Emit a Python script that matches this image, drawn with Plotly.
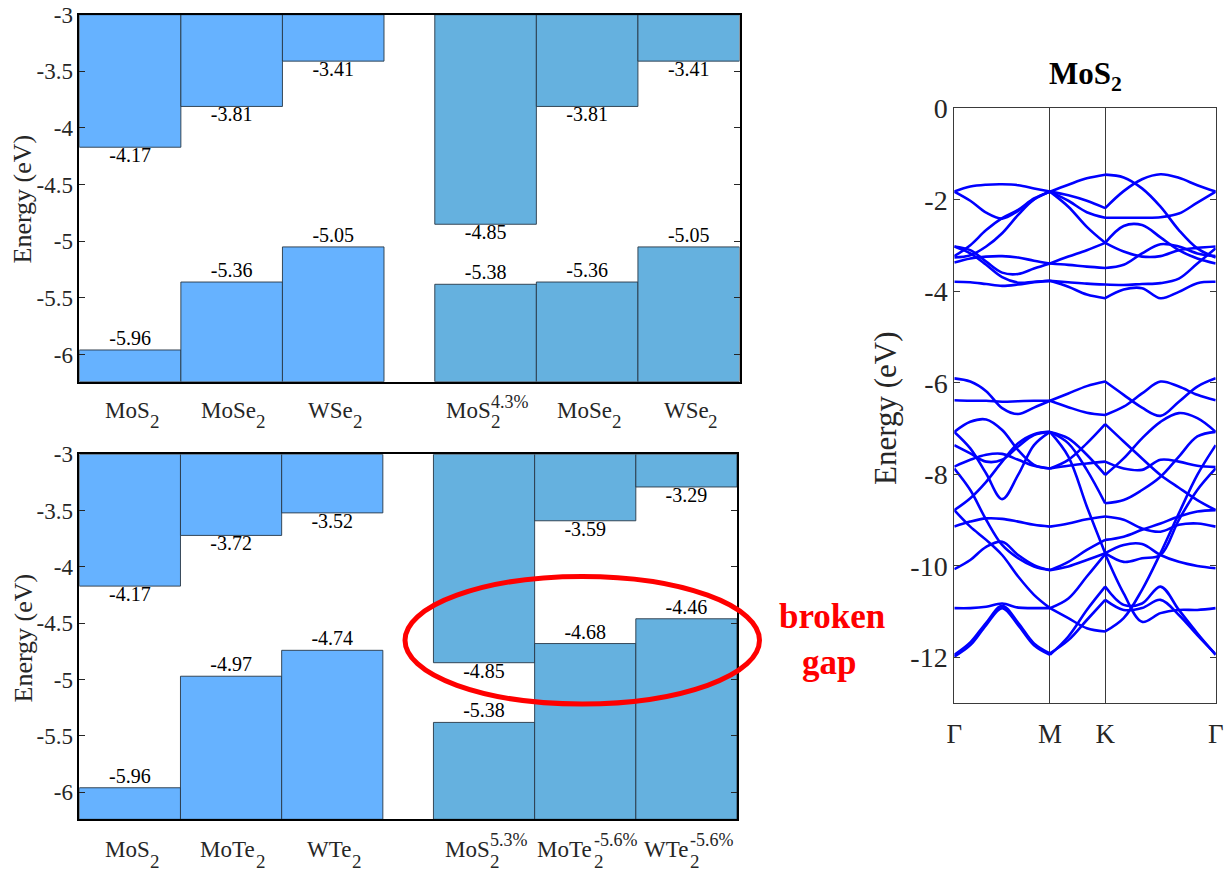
import plotly.graph_objects as go

# ---------------- data ----------------
TOP_NAMES = ["MoS", "MoSe", "WSe", "MoS", "MoSe", "WSe"]
TOP_SUBS = ["2", "2", "2", "2", "2", "2"]
TOP_SUPS = ["", "", "", "4.3%", "", ""]
TOP_CBM = [-4.17, -3.81, -3.41, -4.85, -3.81, -3.41]
TOP_VBM = [-5.96, -5.36, -5.05, -5.38, -5.36, -5.05]

BOT_NAMES = ["MoS", "MoTe", "WTe", "MoS", "MoTe", "WTe"]
BOT_SUBS = ["2", "2", "2", "2", "2", "2"]
BOT_SUPS = ["", "", "", "5.3%", "-5.6%", "-5.6%"]
BOT_CBM = [-4.17, -3.72, -3.52, -4.85, -3.59, -3.29]
BOT_VBM = [-5.96, -4.97, -4.74, -5.38, -4.68, -4.46]

BAR_POS = [0, 1, 2, 3.5, 4.5, 5.5]
E_TOP, E_BOTTOM = -3.0, -6.24
BAR_TICKS = [-3, -3.5, -4, -4.5, -5, -5.5, -6]
BAR_TICKTEXT = ["-3", "-3.5", "-4", "-4.5", "-5", "-5.5", "-6"]

# band structure: k-path  Γ -> M -> K -> Γ  (16 sample points)
K_POINTS = [0.0, 0.167, 0.333, 0.5, 0.667, 0.833, 1.0,
            1.192, 1.385, 1.577,
            1.770, 1.962, 2.155, 2.347, 2.540, 2.732]
K_TICKS = [0.0, 1.0, 1.577, 2.732]
K_LABELS = ["Γ", "M", "K", "Γ"]
BAND_YTICKS = [0, -2, -4, -6, -8, -10, -12]
BAND_YTEXT = ["0", "-2", "-4", "-6", "-8", "-10", "-12"]

CONDUCTION_BANDS = [
    [-1.82, -1.71, -1.67, -1.66, -1.68, -1.75, -1.82, -1.67, -1.53, -1.45, -1.51, -1.75, -2.15, -2.66, -3.06, -3.26],
    [-1.82, -2.02, -2.28, -2.41, -2.24, -1.99, -1.82, -1.90, -2.02, -2.18, -1.81, -1.55, -1.44, -1.52, -1.68, -1.82],
    [-3.23, -2.99, -2.66, -2.40, -2.22, -1.97, -1.82, -2.02, -2.27, -2.39, -2.39, -2.39, -2.38, -2.30, -2.06, -1.82],
    [-3.26, -3.21, -3.02, -2.73, -2.33, -1.99, -1.82, -2.15, -2.59, -2.94, -2.57, -2.55, -2.82, -3.10, -3.28, -3.39],
    [-3.02, -3.10, -3.35, -3.59, -3.62, -3.50, -3.39, -3.24, -3.10, -2.94, -3.13, -3.24, -3.23, -3.10, -3.05, -3.02],
    [-3.37, -3.28, -3.24, -3.23, -3.26, -3.33, -3.39, -3.42, -3.46, -3.49, -3.42, -3.17, -2.97, -3.02, -3.17, -3.23],
    [-3.79, -3.80, -3.84, -3.88, -3.85, -3.80, -3.77, -3.80, -3.83, -3.85, -3.86, -3.84, -3.82, -3.72, -3.39, -3.06],
    [-3.02, -3.17, -3.42, -3.69, -3.81, -3.79, -3.77, -3.90, -4.07, -4.15, -3.96, -3.93, -4.15, -4.01, -3.82, -3.79],
]

VALENCE_BANDS = [
    [-5.90, -5.97, -6.18, -6.55, -6.68, -6.54, -6.39, -6.23, -6.07, -5.97, -6.26, -6.54, -6.72, -6.41, -6.08, -5.90],
    [-6.38, -6.39, -6.39, -6.41, -6.40, -6.39, -6.39, -6.53, -6.65, -6.70, -6.52, -6.23, -5.97, -6.08, -6.26, -6.38],
    [-7.07, -6.85, -6.80, -7.03, -7.47, -7.79, -7.87, -7.68, -7.32, -6.90, -7.28, -7.65, -8.01, -8.29, -8.56, -8.78],
    [-7.07, -7.43, -7.98, -8.54, -8.01, -7.36, -7.07, -7.21, -7.57, -8.01, -7.65, -7.21, -6.85, -6.66, -6.77, -7.07],
    [-7.36, -7.54, -7.72, -7.68, -7.39, -7.14, -7.07, -7.61, -8.70, -9.72, -9.54, -9.52, -9.76, -9.91, -10.00, -10.05],
    [-7.83, -7.68, -7.57, -7.55, -7.68, -7.81, -7.87, -7.81, -7.76, -7.72, -7.87, -7.90, -7.68, -7.72, -7.81, -7.84],
    [-7.87, -8.34, -8.99, -9.54, -9.83, -10.01, -10.09, -10.01, -9.87, -9.72, -9.91, -9.83, -9.76, -8.99, -8.34, -7.87],
    [-8.78, -9.14, -9.43, -9.76, -10.23, -10.63, -10.92, -11.14, -11.36, -11.43, -11.14, -10.52, -9.72, -8.85, -8.01, -7.36],
    [-8.78, -8.52, -8.16, -7.72, -7.32, -7.12, -7.07, -7.32, -7.90, -8.63, -8.56, -8.34, -8.05, -7.61, -7.17, -7.07],
    [-9.14, -9.03, -8.96, -8.97, -9.03, -9.10, -9.14, -9.07, -8.98, -8.92, -8.99, -9.18, -9.25, -9.10, -9.07, -9.14],
    [-10.07, -9.87, -9.58, -9.47, -9.76, -9.98, -10.09, -9.91, -9.65, -9.43, -9.36, -9.21, -9.07, -8.92, -8.81, -8.78],
    [-10.92, -10.92, -10.89, -10.82, -10.91, -10.92, -10.92, -10.71, -10.23, -9.74, -10.60, -11.22, -11.03, -10.96, -10.96, -10.92],
    [-11.98, -11.73, -11.29, -10.92, -11.29, -11.73, -11.94, -11.54, -10.96, -10.45, -10.85, -10.82, -10.45, -10.96, -11.47, -11.94],
    [-11.94, -11.67, -11.24, -10.87, -11.24, -11.69, -11.91, -11.62, -11.18, -10.74, -10.96, -10.92, -10.74, -11.07, -11.51, -11.93],
]

# ---------------- style ----------------
SERIF = "Liberation Serif"
TICK_COLOR = "#262626"
LEFT_COLOR = "#66B2FF"
RIGHT_COLOR = "#65B1DF"
EDGE = "rgba(40,55,70,0.9)"
W, H = 1230, 873
FS_MAIN, FS_SUB, FS_SUP = 23, 19, 18
# approximate Times/Liberation Serif advance widths (em)
CHAR_W = {"M": 0.889, "o": 0.5, "S": 0.556, "e": 0.444, "T": 0.611, "W": 0.944,
          "-": 0.333, ".": 0.25, "%": 0.833}


def text_w(s, size):
    return sum(CHAR_W.get(c, 0.5) for c in s) * size


def px_x(p):
    return p / W


def px_y(p):
    return 1 - p / H


fig = go.Figure()
bar_colors = [LEFT_COLOR] * 3 + [RIGHT_COLOR] * 3


def add_bar_panel(cbm, vbm, xa, ya):
    fig.add_trace(go.Bar(x=BAR_POS, y=[c - E_TOP for c in cbm], base=E_TOP, width=1,
                         marker=dict(color=bar_colors, line=dict(color=EDGE, width=1)),
                         xaxis=xa, yaxis=ya, showlegend=False, hoverinfo="skip"))
    fig.add_trace(go.Bar(x=BAR_POS, y=[v - E_BOTTOM for v in vbm], base=E_BOTTOM, width=1,
                         marker=dict(color=bar_colors, line=dict(color=EDGE, width=1)),
                         xaxis=xa, yaxis=ya, showlegend=False, hoverinfo="skip"))
    fig.add_trace(go.Scatter(x=BAR_POS, y=cbm, mode="text", text=[f"{c:.2f}" for c in cbm],
                             textposition="bottom center",
                             textfont=dict(family=SERIF, size=20, color="black"),
                             xaxis=xa, yaxis=ya, showlegend=False, hoverinfo="skip"))
    fig.add_trace(go.Scatter(x=BAR_POS, y=vbm, mode="text", text=[f"{v:.2f}" for v in vbm],
                             textposition="top center",
                             textfont=dict(family=SERIF, size=20, color="black"),
                             xaxis=xa, yaxis=ya, showlegend=False, hoverinfo="skip"))


add_bar_panel(TOP_CBM, TOP_VBM, "x", "y")
add_bar_panel(BOT_CBM, BOT_VBM, "x2", "y2")

# band structure lines, one path per band, split at M and K
SEGMENTS = [(0, 7), (6, 10), (9, 16)]
for band in CONDUCTION_BANDS + VALENCE_BANDS:
    xs, ys = [], []
    for a, b in SEGMENTS:
        xs += K_POINTS[a:b] + [None]
        ys += band[a:b] + [None]
    fig.add_trace(go.Scatter(x=xs, y=ys, mode="lines",
                             line=dict(color="#0000FF", width=2.6, shape="spline", smoothing=1.0),
                             connectgaps=False, xaxis="x3", yaxis="y3",
                             showlegend=False, hoverinfo="skip"))

bar_x_common = dict(range=[-0.5, 6.0], tickmode="array", tickvals=BAR_POS,
                    showticklabels=False,
                    showline=True, linecolor="black", linewidth=1.5, mirror=True,
                    ticks="", showgrid=False, zeroline=False, automargin=False)
bar_y_common = dict(range=[E_BOTTOM, E_TOP], tickmode="array", tickvals=BAR_TICKS,
                    ticktext=BAR_TICKTEXT, showline=True, linecolor="black", linewidth=1.5,
                    mirror="ticks", ticks="inside", ticklen=6, tickcolor="#262626",
                    showgrid=False, zeroline=False, automargin=False,
                    tickfont=dict(family=SERIF, size=23, color=TICK_COLOR))

fig.update_layout(
    width=W, height=H, margin=dict(l=0, r=0, t=0, b=0, autoexpand=False),
    paper_bgcolor="white", plot_bgcolor="white", barmode="overlay",
    font=dict(family=SERIF),
    xaxis=dict(domain=[px_x(79.3), px_x(739.5)], anchor="y", **bar_x_common),
    yaxis=dict(domain=[px_y(381.7), px_y(14.7)], anchor="x", **bar_y_common),
    xaxis2=dict(domain=[px_x(79.3), px_x(737)], anchor="y2", **bar_x_common),
    yaxis2=dict(domain=[px_y(819.3), px_y(454.3)], anchor="x2", **bar_y_common),
    xaxis3=dict(domain=[px_x(954.3), px_x(1215.7)], range=[0, 2.732], anchor="y3",
                tickmode="array", tickvals=K_TICKS, ticktext=K_LABELS, automargin=False,
                showgrid=True, gridcolor="#3a3a3a", gridwidth=1, zeroline=False,
                showline=True, linecolor="#3a3a3a", linewidth=1, mirror=True, ticks="",
                tickfont=dict(family=SERIF, size=27, color=TICK_COLOR), ticklabelstandoff=6),
    yaxis3=dict(domain=[px_y(703.3), px_y(108.3)], range=[-13, 0], anchor="x3",
                tickmode="array", tickvals=BAND_YTICKS, ticktext=BAND_YTEXT, automargin=False,
                showgrid=False, zeroline=False, showline=True, linecolor="#3a3a3a",
                linewidth=1, mirror="ticks", ticks="inside", ticklen=6, tickcolor="#3a3a3a",
                tickfont=dict(family=SERIF, size=28, color=TICK_COLOR)),
)

annotations = [
    dict(text="Energy (eV)", x=px_x(22.5), y=px_y(199), textangle=-90,
         font=dict(family=SERIF, size=26, color=TICK_COLOR)),
    dict(text="Energy (eV)", x=px_x(22.5), y=px_y(638), textangle=-90,
         font=dict(family=SERIF, size=26, color=TICK_COLOR)),
    dict(text="Energy (eV)", x=px_x(885), y=px_y(408), textangle=-90,
         font=dict(family=SERIF, size=31, color=TICK_COLOR)),
    dict(text="<b>MoS<sub>2</sub></b>", x=px_x(1085), y=px_y(76),
         font=dict(family=SERIF, size=31, color="black")),
    dict(text="<b>broken</b>", x=px_x(832), y=px_y(616),
         font=dict(family=SERIF, size=35, color="#FF0000")),
    dict(text="<b>gap</b>", x=px_x(829), y=px_y(662),
         font=dict(family=SERIF, size=35, color="#FF0000")),
]
for a in annotations:
    a.update(xref="paper", yref="paper", showarrow=False, xanchor="center", yanchor="middle")


def category_labels(names, subs, sups, xref, y_main, y_sub, y_sup):
    out = []
    for pos, name, sub, sup in zip(BAR_POS, names, subs, sups):
        w_main = text_w(name, FS_MAIN)
        w_tail = max(text_w(sub, FS_SUB), text_w(sup, FS_SUP))
        start = -(w_main + w_tail) / 2
        common = dict(xref=xref, yref="paper", x=pos, showarrow=False,
                      xanchor="left", yanchor="middle")
        out.append(dict(text=name, y=px_y(y_main), xshift=start,
                        font=dict(family=SERIF, size=FS_MAIN, color=TICK_COLOR), **common))
        out.append(dict(text=sub, y=px_y(y_sub), xshift=start + w_main,
                        font=dict(family=SERIF, size=FS_SUB, color=TICK_COLOR), **common))
        if sup:
            out.append(dict(text=sup, y=px_y(y_sup), xshift=start + w_main,
                            font=dict(family=SERIF, size=FS_SUP, color=TICK_COLOR), **common))
    return out


annotations += category_labels(TOP_NAMES, TOP_SUBS, TOP_SUPS, "x", 410, 421, 402)
annotations += category_labels(BOT_NAMES, BOT_SUBS, BOT_SUPS, "x2", 849, 861, 840)
fig.update_layout(annotations=annotations)

fig.add_shape(type="circle", xref="paper", yref="paper",
              x0=px_x(405), x1=px_x(759.5), y0=px_y(704), y1=px_y(576.5),
              line=dict(color="#FF0000", width=5))

fig.write_html("out.html", config={"displayModeBar": False},
               post_script="document.body.style.margin='0';")
